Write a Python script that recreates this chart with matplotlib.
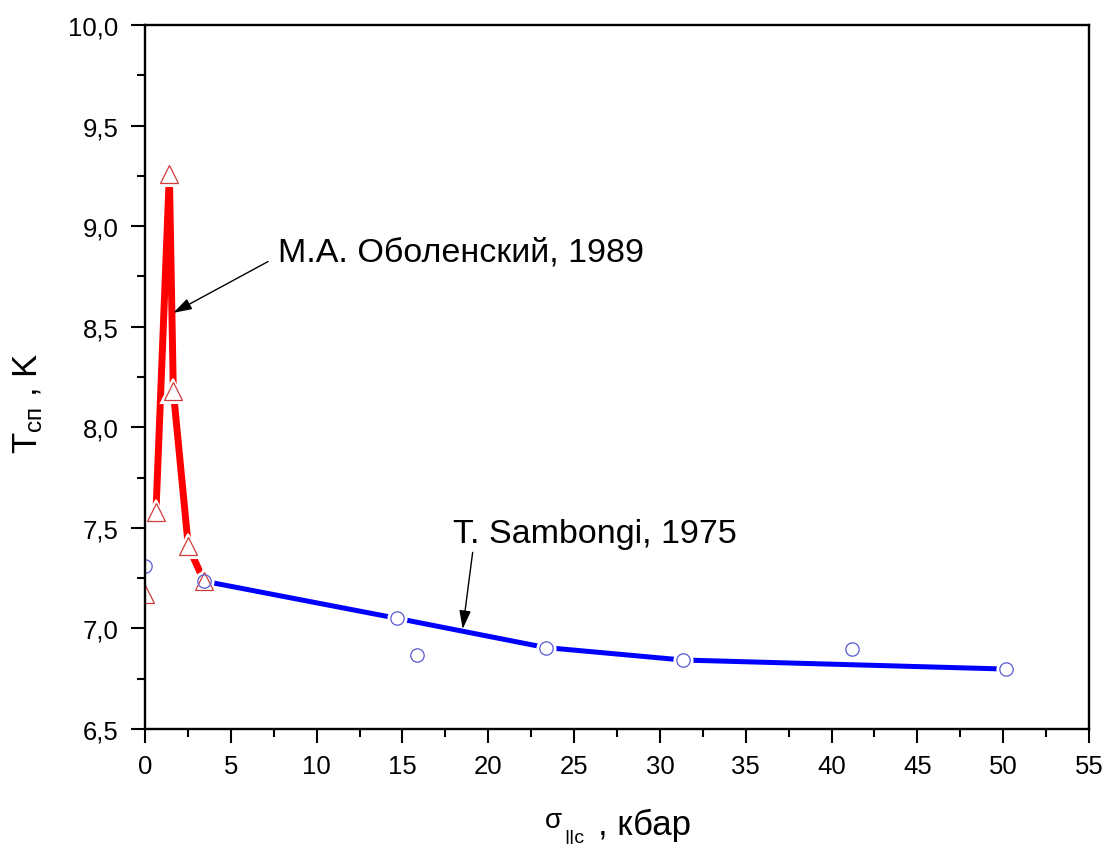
import matplotlib
matplotlib.use("Agg")
import matplotlib.pyplot as plt
from matplotlib.ticker import MultipleLocator, FuncFormatter

plt.rcParams['font.family'] = ['Liberation Sans', 'DejaVu Sans']
plt.rcParams['mathtext.default'] = 'regular'

# Measured points: pressure (kbar) vs transition temperature (K)
obolensky_p = [0.0, 0.64, 1.42, 1.65, 2.52, 3.44]
obolensky_t = [7.17, 7.58, 9.26, 8.18, 7.41, 7.235]
sambongi_p = [0.0, 3.44, 14.70, 15.87, 23.34, 31.33, 41.19, 50.17]
sambongi_t = [7.31, 7.235, 7.05, 6.87, 6.905, 6.843, 6.897, 6.798]

# Guide curves through the data
obolensky_curve_p = [0.64, 1.42, 1.65, 2.52, 3.44]
obolensky_curve_t = [7.58, 9.26, 8.18, 7.41, 7.235]
sambongi_curve_p = [3.44, 14.70, 23.34, 31.33, 50.17]
sambongi_curve_t = [7.235, 7.05, 6.905, 6.843, 6.798]

x_ticks = list(range(0, 56, 5))
y_ticks = [6.5, 7.0, 7.5, 8.0, 8.5, 9.0, 9.5, 10.0]

W, H = 1106, 845
fig = plt.figure(figsize=(W / 100, H / 100), dpi=100)
ax = fig.add_axes([145 / W, 1 - 730 / H, (1089 - 145) / W, (730 - 26) / H])

red = '#ff0000'
blue = '#0000ff'

# curves
ax.plot(obolensky_curve_p, obolensky_curve_t, color=red, lw=5, solid_capstyle='round',
        solid_joinstyle='round', zorder=2)
ax.plot(sambongi_curve_p, sambongi_curve_t, color=blue, lw=3.6, solid_capstyle='round',
        zorder=2)

# white halos leave a small gap between curve and symbol
ax.plot(obolensky_p, obolensky_t, ls='none', marker='^', ms=17.5, mfc='white', mec='white',
        mew=1.5, zorder=2.1)
ax.plot(sambongi_p, sambongi_t, ls='none', marker='o', ms=14.5, mfc='white', mec='none', zorder=2.1)

# symbols
ax.plot(obolensky_p, obolensky_t, ls='none', marker='^', ms=13.5, mfc='white',
        mec='#d03c3c', mew=0.9, zorder=2.2)
ax.plot(sambongi_p, sambongi_t, ls='none', marker='o', ms=9.6, mfc='none',
        mec='#5a5ad0', mew=0.9, zorder=2.3)

ax.set_xlim(0, 55)
ax.set_ylim(6.5, 10.0)
ax.set_xticks(x_ticks)
ax.set_yticks(y_ticks)
ax.xaxis.set_minor_locator(MultipleLocator(2.5))
ax.yaxis.set_minor_locator(MultipleLocator(0.25))
ax.yaxis.set_major_formatter(FuncFormatter(lambda v, _: f'{v:.1f}'.replace('.', ',')))
ax.xaxis.set_major_formatter(FuncFormatter(lambda v, _: f'{v:.0f}'))

ax.tick_params(which='major', direction='out', length=10, width=1.5, labelsize=18.5, color='black')
ax.tick_params(axis='y', which='major', pad=9)
ax.tick_params(axis='x', which='major', pad=8)
ax.tick_params(which='minor', direction='out', length=5.5, width=1.5)
ax.tick_params(top=False, right=False, which='both')
for s in ax.spines.values():
    s.set_linewidth(1.7)
    s.set_zorder(2.5)

# annotations
arrow = dict(arrowstyle='-|>,head_length=0.8,head_width=0.25', color='black', lw=1.0,
             shrinkA=0, shrinkB=0, mutation_scale=14)
ax.text(7.75, 8.827, 'М.А. Оболенский, 1989', fontsize=24.5, ha='left', va='baseline')
ax.annotate('', xy=(1.65, 8.569), xytext=(7.17, 8.824), arrowprops=arrow)
ax.text(17.95, 7.43, 'T. Sambongi, 1975', fontsize=24.5, ha='left', va='baseline')
ax.annotate('', xy=(18.51, 6.997), xytext=(19.09, 7.378), arrowprops=arrow)

# axis titles
fig.text(37 / W, 1 - 403 / H, r'$\mathregular{T_{сп}}$ , K', fontsize=25, rotation=90,
         rotation_mode='anchor', ha='center', va='baseline')
fig.text(545 / W, 1 - 828 / H, 'σ', fontsize=20, ha='left', va='baseline')
fig.text(564 / W, 1 - 843 / H, '||c', fontsize=14, ha='left', va='baseline')
fig.text(598 / W, 1 - 835 / H, ', кбар', fontsize=25, ha='left', va='baseline')

fig.savefig('out.png', dpi=100)
